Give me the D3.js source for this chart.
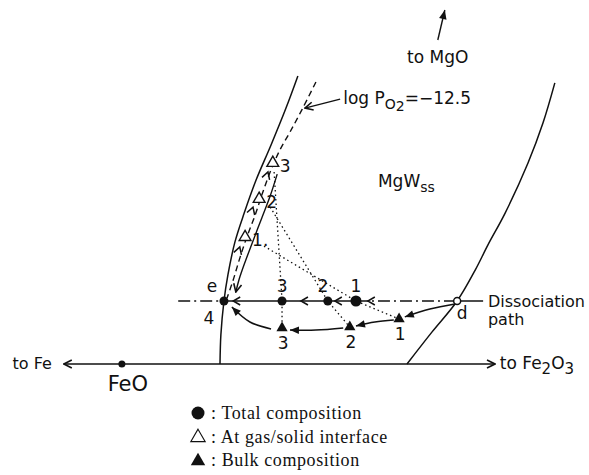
<!DOCTYPE html>
<html>
<head>
<meta charset="utf-8">
<script src="https://cdn.jsdelivr.net/npm/d3@7"></script>
<style>
body { margin: 0; background: #fff; }
svg { display: block; }
text { font-family: "DejaVu Sans", sans-serif; fill: #111; }
.legend text { font-family: "Liberation Serif", serif; letter-spacing: 0.6px; }
</style>
</head>
<body>
<div id="chart"></div>
<script>
var width = 589
var height = 475

// composition coordinates (arbitrary units, FeO-Fe2O3 line at v = 0)
var leftBoundary = [[55.2, 96], [52.5, 85.3], [49.1, 73], [45.7, 61.3], [43, 50.3], [40.9, 40.7], [39.3, 29.7], [38.4, 21], [37.7, 9.7], [37.5, 0]]
var rightBoundary = [[113.6, 93.7], [110.9, 80.3], [107.5, 67], [102.3, 50.3], [98.4, 39.7], [95.5, 31.3], [91.4, 21], [85.7, 10.7], [80, 0]]
var po2Line = [[59.3, 94], [56.1, 84.7], [53.4, 77.3], [51.1, 71.3], [48.9, 64], [47, 56.3], [45.5, 49.7], [43.6, 42.3], [42, 35.3], [40.5, 28], [39.1, 22]]
var returnPath = [[50.5, 63.3], [48.9, 56], [47, 48.7], [45, 41], [43.2, 34], [41.8, 28], [41.1, 24]]
var baseAxis = [2, 100]
var feoPoint = [15.2, 0]

var dissV = 21
var dissStart = 28
var dissEnd = 97.3
var dPoint = [91.4, 21]

var totalLabels = ["4", "3", "2", "1"]
var totalU = [38.4, 51.6, 62.0, 68.4]

var interfaceLabels = ["1", "2", "3"]
var interfacePts = [[43.2, 42.3], [46.4, 55], [49.5, 67]]

var bulkLabels = ["1", "2", "3"]
var bulkPts = [[78.2, 15], [67.0, 12.3], [51.6, 12]]

var tieStart = [[47.5, 39.3], [48.9, 52.3], [49.8, 64]]

var bulkArrows = [
    [[90.9, 20], [85.2, 18.3], [79.5, 15.7]],
    [[77, 14.7], [72.7, 14], [68.4, 12.7]],
    [[65.5, 12], [59.3, 11.3], [53.4, 11.3]],
    [[49.1, 11.7], [44.3, 14], [40.2, 19]]
]
var leftChevU = [40.5, 55.9, 63.6, 71.1]
var upChevPts = [[42.0, 39], [45.0, 52.3], [48.4, 64]]
var po2Arrow = [[64.8, 88.3], [56.8, 85.3]]
var mgoArrow = [[87, 108], [88.6, 118]]

var legendItems = ["Total composition", "At gas/solid interface", "Bulk composition"]

var x = d3.scaleLinear().domain([0, 100]).range([55, 495])
var y = d3.scaleLinear().domain([0, 100]).range([364, 64])

var line = d3.line().x((d) => x(d[0])).y((d) => y(d[1]))
var curve = d3.line().x((d) => x(d[0])).y((d) => y(d[1])).curve(d3.curveCatmullRom)

const svg = d3.select("#chart")
    .append("svg")
    .attr("width", width)
    .attr("height", height)

var defs = svg.append("defs")
defs.append("marker")
    .attr("id", "open")
    .attr("viewBox", "-1 -5 11 10")
    .attr("refX", 9).attr("refY", 0)
    .attr("markerWidth", 11).attr("markerHeight", 10)
    .attr("markerUnits", "userSpaceOnUse")
    .attr("orient", "auto-start-reverse")
    .append("path")
    .attr("d", "M1,-4L9,0L1,4")
    .attr("fill", "none").attr("stroke", "#111").attr("stroke-width", 1.6)
defs.append("marker")
    .attr("id", "solid")
    .attr("viewBox", "-1 -5 11 10")
    .attr("refX", 9).attr("refY", 0)
    .attr("markerWidth", 11).attr("markerHeight", 10)
    .attr("markerUnits", "userSpaceOnUse")
    .attr("orient", "auto")
    .append("path")
    .attr("d", "M0,-3.8L9,0L0,3.8Z")
    .attr("fill", "#111")

function stroke(sel, w) {
    return sel.attr("fill", "none").attr("stroke", "#111").attr("stroke-width", w)
}

// phase boundaries
stroke(svg.append("path").datum(leftBoundary).attr("d", curve), 1.5)
stroke(svg.append("path").datum(rightBoundary).attr("d", curve), 1.5)

// log PO2 line
stroke(svg.append("path").datum(po2Line).attr("d", curve), 1.4)
    .attr("stroke-dasharray", "6,4")

// return path from interface 3 down to e
stroke(svg.append("path").datum(returnPath).attr("d", curve), 1.4)
    .attr("marker-end", "url(#open)")

// base line FeO - Fe2O3
stroke(svg.append("path").datum([[baseAxis[0], 0], [baseAxis[1], 0]]).attr("d", line), 1.5)
    .attr("marker-start", "url(#open)")
    .attr("marker-end", "url(#open)")

svg.append("circle")
    .attr("cx", x(feoPoint[0])).attr("cy", y(feoPoint[1]))
    .attr("r", 3.5).attr("fill", "#111")

// dissociation path
stroke(svg.append("path").datum([[dissStart, dissV], [totalU[0], dissV]]).attr("d", line), 1.3)
    .attr("stroke-dasharray", "12,4,2,4")
stroke(svg.append("path").datum([[totalU[0], dissV], [totalU[3], dissV]]).attr("d", line), 1.5)
stroke(svg.append("path").datum([[totalU[3], dissV], [dPoint[0], dissV]]).attr("d", line), 1.3)
    .attr("stroke-dasharray", "12,4,2,4")
stroke(svg.append("path").datum([[dPoint[0], dissV], [dissEnd, dissV]]).attr("d", line), 1.5)

// tie lines (dotted)
tieStart.forEach((s, i) => {
    var k = totalLabels.indexOf(interfaceLabels[i])
    stroke(svg.append("path").datum([s, [totalU[k], dissV], bulkPts[i]]).attr("d", line), 1.3)
        .attr("stroke-dasharray", "1.5,3")
})

// arrows between bulk compositions
bulkArrows.forEach((a) => {
    stroke(svg.append("path").datum(a).attr("d", curve), 1.5)
        .attr("marker-end", "url(#solid)")
})

// chevrons
function chevron(px, py, angle) {
    svg.append("path")
        .attr("d", "M-7,-4L0,0L-7,4")
        .attr("transform", "translate(" + px + "," + py + ") rotate(" + angle + ")")
        .attr("fill", "none").attr("stroke", "#111").attr("stroke-width", 1.5)
}
leftChevU.forEach((u) => chevron(x(u), y(dissV), 180))
upChevPts.forEach((p) => chevron(x(p[0]), y(p[1]), -72))

// other arrows
stroke(svg.append("path").datum(po2Arrow).attr("d", line), 1.4).attr("marker-end", "url(#open)")
stroke(svg.append("path").datum(mgoArrow).attr("d", line), 1.4).attr("marker-end", "url(#solid)")

// points
svg.selectAll(".total")
    .data(totalU)
    .enter().append("circle")
    .attr("cx", (d) => x(d)).attr("cy", y(dissV))
    .attr("r", (d, i) => totalLabels[i] == "1" ? 5.5 : 4.5)
    .attr("fill", "#111")

svg.append("circle")
    .attr("cx", x(dPoint[0])).attr("cy", y(dPoint[1]))
    .attr("r", 3.5).attr("fill", "#fff").attr("stroke", "#111").attr("stroke-width", 1.5)

svg.selectAll(".interface")
    .data(interfacePts)
    .enter().append("path")
    .attr("d", d3.symbol(d3.symbolTriangle, 60))
    .attr("transform", (d) => "translate(" + x(d[0]) + "," + y(d[1]) + ")")
    .attr("fill", "#fff").attr("stroke", "#111").attr("stroke-width", 1.4)

svg.selectAll(".bulk")
    .data(bulkPts)
    .enter().append("path")
    .attr("d", d3.symbol(d3.symbolTriangle, 55))
    .attr("transform", (d) => "translate(" + x(d[0]) + "," + y(d[1]) + ")")
    .attr("fill", "#111")

// labels
var fs = 17
totalLabels.forEach((t, i) => {
    var below = t == "4"
    svg.append("text")
        .attr("x", x(totalU[i]) + (i == 0 ? -15 : (i == 2 ? -5 : 0)))
        .attr("y", y(dissV) + (below ? 23 : -9))
        .attr("text-anchor", "middle")
        .style("font-size", fs + "px")
        .text(t)
})
svg.append("text")
    .attr("x", x(totalU[0]) - 12).attr("y", y(dissV) - 9)
    .attr("text-anchor", "middle").style("font-size", fs + "px")
    .text("e")
svg.append("text")
    .attr("x", x(dPoint[0]) + 5).attr("y", y(dPoint[1]) + 18)
    .attr("text-anchor", "middle").style("font-size", fs + "px")
    .text("d")
bulkPts.forEach((p, i) => {
    svg.append("text")
        .attr("x", x(p[0]) + 1).attr("y", y(p[1]) + 21)
        .attr("text-anchor", "middle").style("font-size", fs + "px")
        .text(bulkLabels[i])
})
interfacePts.forEach((p, i) => {
    svg.append("text")
        .attr("x", x(p[0]) + 7).attr("y", y(p[1]) + 9)
        .style("font-size", fs + "px")
        .text(interfaceLabels[i] + (interfaceLabels[i] == "1" ? "." : ""))
})

svg.append("text").attr("x", x(80)).attr("y", y(100.3))
    .style("font-size", "17px").text("to MgO")

var po2 = svg.append("text").attr("x", x(65.5)).attr("y", y(86.7)).style("font-size", "17px")
po2.append("tspan").text("log P")
po2.append("tspan").attr("dy", 5).style("font-size", "14px").text("O")
po2.append("tspan").attr("dy", 2).style("font-size", "14px").text("2")
po2.append("tspan").attr("dy", -7).text("=\u221212.5")

var mgw = svg.append("text").attr("x", x(73.4)).attr("y", y(59)).style("font-size", "17px")
mgw.append("tspan").text("MgW")
mgw.append("tspan").attr("dy", 5).style("font-size", "14px").text("ss")

svg.append("text").attr("x", x(98.4)).attr("y", y(19)).style("font-size", "16px").text("Dissociation")
svg.append("text").attr("x", x(98.4)).attr("y", y(13)).style("font-size", "16px").text("path")

svg.append("text").attr("x", x(-0.7)).attr("y", y(-1.7))
    .attr("text-anchor", "end").style("font-size", "16px").text("to Fe")
var fe2o3 = svg.append("text").attr("x", x(101.1)).attr("y", y(-1.7)).style("font-size", "17px")
fe2o3.append("tspan").text("to Fe")
fe2o3.append("tspan").attr("dy", 5).style("font-size", "15px").text("2")
fe2o3.append("tspan").attr("dy", -5).text("O")
fe2o3.append("tspan").attr("dy", 5).style("font-size", "15px").text("3")

svg.append("text").attr("x", x(feoPoint[0]) + 6).attr("y", y(feoPoint[1]) + 27)
    .attr("text-anchor", "middle").style("font-size", "21px").text("FeO")

// legend
var legend = svg.append("g").attr("class", "legend").attr("transform", "translate(198,413)")
legendItems.forEach((t, i) => {
    var g = legend.append("g").attr("transform", "translate(0," + (i * 23.5) + ")")
    if (i == 0) {
        g.append("circle").attr("r", 6.5).attr("fill", "#111")
    } else {
        g.append("path")
            .attr("d", d3.symbol(d3.symbolTriangle, 90))
            .attr("transform", "translate(0,1)")
            .attr("fill", i == 2 ? "#111" : "#fff")
            .attr("stroke", "#111").attr("stroke-width", i == 2 ? 0 : 1.1)
    }
    g.append("text").attr("x", 13).attr("y", 6).style("font-size", "18px").text(": " + t)
})
</script>
</body>
</html>
